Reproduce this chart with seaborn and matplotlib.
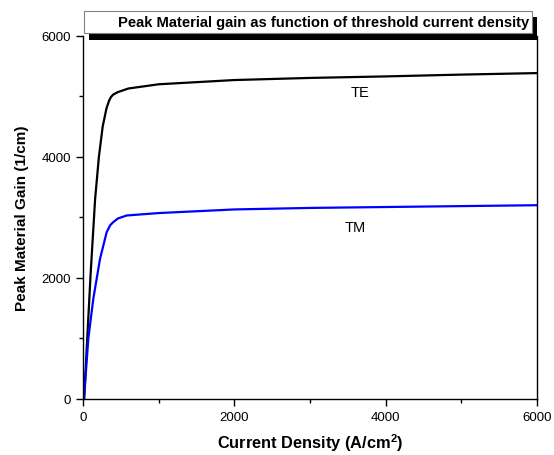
import numpy as np
import pandas as pd
import matplotlib
matplotlib.use("Agg")
import matplotlib.pyplot as plt
from matplotlib.patches import Rectangle
from matplotlib.ticker import MultipleLocator
import seaborn as sns

# Data
te_j = [15, 50, 100, 160, 210, 260, 310, 345, 370, 400, 460, 600, 1000, 2000, 3000, 4000, 5000, 6000]
te_g = [0, 850, 2050, 3300, 4000, 4500, 4800, 4930, 4990, 5030, 5070, 5130, 5200, 5270, 5305, 5330, 5360, 5385]
tm_j = [13, 70, 136, 225, 313, 360, 400, 460, 577, 1000, 2000, 3000, 4000, 5000, 6000]
tm_g = [0, 990, 1650, 2313, 2755, 2870, 2920, 2980, 3030, 3070, 3130, 3155, 3170, 3185, 3200]
x_ticks = [0, 2000, 4000, 6000]
y_ticks = [0, 2000, 4000, 6000]
title = "Peak Material gain as function of threshold current density"
xlabel = "Current Density (A/cm$^{2}$)"
ylabel = "Peak Material Gain (1/cm)"

df = pd.concat([
    pd.DataFrame({"J": te_j, "g": te_g, "mode": "TE"}),
    pd.DataFrame({"J": tm_j, "g": tm_g, "mode": "TM"}),
])

sns.set_style("ticks")
plt.rcParams["font.family"] = ["Liberation Sans", "DejaVu Sans"]
plt.rcParams["text.color"] = "black"
plt.rcParams["axes.labelcolor"] = "black"
plt.rcParams["mathtext.fontset"] = "custom"
plt.rcParams["mathtext.rm"] = "Liberation Sans:bold"
plt.rcParams["mathtext.it"] = "Liberation Sans:bold"
plt.rcParams["mathtext.bf"] = "Liberation Sans:bold"

fig = plt.figure(figsize=(5.54, 4.56), dpi=100)
ax = fig.add_axes([83/554, 1 - 399.7/456, (537 - 83)/554, (399.7 - 36.9)/456])

sns.lineplot(data=df, x="J", y="g", hue="mode", palette={"TE": "black", "TM": "#0000ff"},
             linewidth=1.6, legend=False, ax=ax, sort=False, estimator=None)

ax.set_xlim(0, 6000)
ax.set_ylim(0, 6000)
ax.set_xticks(x_ticks)
ax.set_yticks(y_ticks)
ax.xaxis.set_minor_locator(MultipleLocator(1000))
ax.yaxis.set_minor_locator(MultipleLocator(1000))
ax.tick_params(which="major", direction="out", length=5, width=1, labelsize=9.5,
               colors="black", labelcolor="black")
ax.tick_params(which="minor", direction="out", length=3, width=1, colors="black")
ax.tick_params(axis="x", pad=4)
for s in ["left", "bottom", "right"]:
    ax.spines[s].set_visible(True)
    ax.spines[s].set_linewidth(1)
    ax.spines[s].set_color("black")
ax.spines["top"].set_visible(False)

ax.set_xlabel(xlabel, fontsize=11.8, fontweight="bold", labelpad=6, color="black")
ax.set_ylabel(ylabel, fontsize=11, fontweight="bold", labelpad=9, color="black")

ax.text(3660, 5078, "TE", fontsize=10.5, ha="center", va="center", color="black")
ax.text(3595, 2843, "TM", fontsize=10.5, ha="center", va="center", color="black")

# Title box with shadow (figure pixel coords)
W, H = 554, 456
bx0, bx1, by0, by1 = 83.5, 531.5, 11.7, 34.3
fig.patches.append(Rectangle(((bx0 + 5) / W, 1 - (by1 + 6.3) / H), (bx1 - bx0) / W, (by1 - by0) / H,
                             transform=fig.transFigure, facecolor="black", edgecolor="none", zorder=5))
fig.patches.append(Rectangle((bx0 / W, 1 - by1 / H), (bx1 - bx0) / W, (by1 - by0) / H,
                             transform=fig.transFigure, facecolor="white", edgecolor="#808080",
                             linewidth=0.8, zorder=6))
fig.text(529 / W, 1 - 23.5 / H, title, fontsize=10.6, fontweight="bold", ha="right", va="center",
         zorder=7, color="black")

fig.savefig("out.png", dpi=100)
